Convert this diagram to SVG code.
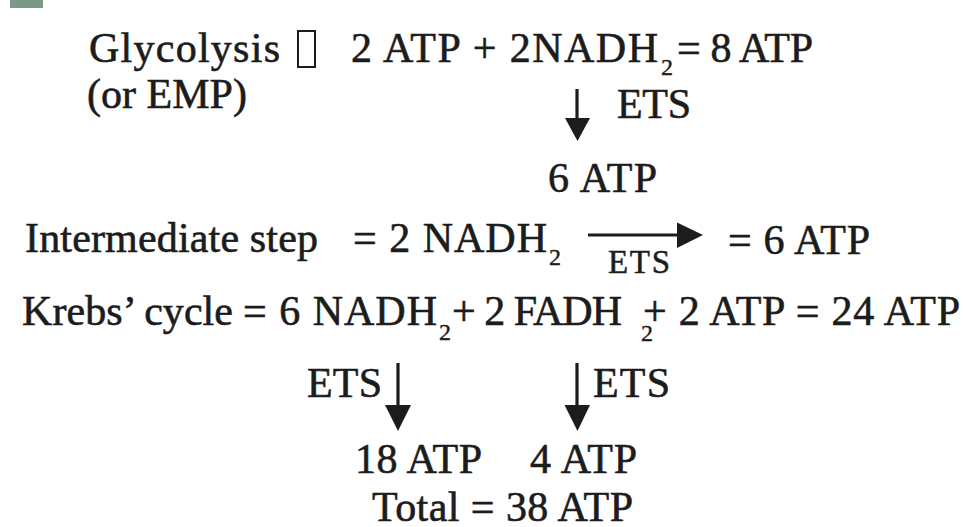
<svg xmlns="http://www.w3.org/2000/svg" width="963" height="527" viewBox="0 0 963 527">
  <style>
    .t, .sub, .lbl { font-family: "Liberation Serif", "Times New Roman", serif; fill: #1c1c1c; stroke: #1c1c1c; stroke-width: 0.6; }
    .t { font-size: 42px; }
    .sub { font-size: 24px; stroke-width: 0.4; }
    .lbl { font-size: 33px; stroke-width: 0.5; }
    .stem { stroke: #1c1c1c; stroke-width: 3.2; fill: none; }
    .head { fill: #1c1c1c; }
  </style>
  <rect width="963" height="527" fill="#ffffff"/>

  <!-- corner icon fragment -->
  <rect x="10" y="0" width="33" height="8" fill="#7a9a86"/>

  <!-- glycolysis -->
  <g id="glycolysis">
    <text class="t" x="89" y="62" textLength="191" lengthAdjust="spacing">Glycolysis</text>
    <rect x="298" y="31" width="17" height="36" fill="none" stroke="#1c1c1c" stroke-width="2"/>
    <text class="t" x="351" y="62" textLength="307" lengthAdjust="spacing">2 ATP + 2NADH</text>
    <text class="sub" x="661" y="75">2</text>
    <text class="t" x="677" y="62" textLength="136" lengthAdjust="spacing">= 8 ATP</text>
    <text class="t" x="87" y="108" textLength="160" lengthAdjust="spacing">(or EMP)</text>
  </g>

  <g id="glycolysis-ets-yield">
    <text class="t" x="548" y="192" textLength="109" lengthAdjust="spacing">6 ATP</text>
  </g>

  <!-- intermediate step -->
  <g id="intermediate">
    <text class="t" x="25" y="252" textLength="293" lengthAdjust="spacing">Intermediate step</text>
    <text class="t" x="353" y="252" textLength="194" lengthAdjust="spacing">= 2 NADH</text>
    <text class="sub" x="549" y="265">2</text>
    <text class="t" x="728" y="254" textLength="142" lengthAdjust="spacing">= 6 ATP</text>
  </g>

  <!-- Krebs' cycle -->
  <g id="krebs">
    <text class="t" x="22" y="325" textLength="211" lengthAdjust="spacing">Krebs’ cycle</text>
    <text class="t" x="243" y="325" textLength="194" lengthAdjust="spacing">= 6 NADH</text>
    <text class="sub" x="439" y="340">2</text>
    <text class="t" x="452" y="325" textLength="170" lengthAdjust="spacing">+ 2 FADH</text>
    <text class="sub" x="641" y="341">2</text>
    <text class="t" x="643" y="325" textLength="317" lengthAdjust="spacing">+ 2 ATP = 24 ATP</text>
  </g>

  <!-- ETS yields -->
  <g id="nadh-yield">
    <text class="t" x="355" y="473" textLength="127" lengthAdjust="spacing">18 ATP</text>
  </g>
  <g id="fadh-yield">
    <text class="t" x="530" y="473" textLength="107" lengthAdjust="spacing">4 ATP</text>
  </g>
  <g id="total">
    <text class="t" x="372" y="521" textLength="261" lengthAdjust="spacing">Total = 38 ATP</text>
  </g>

  <!-- connectors -->
  <g id="connectors">
    <!-- glycolysis NADH2 to ETS -->
    <line class="stem" x1="577" y1="89" x2="577" y2="122"/>
    <polygon class="head" points="565,118 590,118 577.5,141"/>
    <text class="t" x="617" y="118" textLength="74" lengthAdjust="spacing">ETS</text>

    <!-- intermediate step ETS -->
    <line class="stem" x1="588" y1="235" x2="682" y2="235"/>
    <polygon class="head" points="677,222.5 703,235 677,248"/>
    <text class="lbl" x="608" y="273" textLength="62" lengthAdjust="spacing">ETS</text>

    <!-- Krebs' cycle NADH2 -->
    <text class="t" x="307" y="397" textLength="75" lengthAdjust="spacing">ETS</text>
    <line class="stem" x1="398" y1="363" x2="398" y2="408"/>
    <polygon class="head" points="385,405 411,405 398,431"/>

    <!-- Krebs' cycle FADH2 -->
    <line class="stem" x1="577" y1="363" x2="577" y2="408"/>
    <polygon class="head" points="564.5,405 590,405 577.5,431"/>
    <text class="t" x="593" y="397" textLength="77" lengthAdjust="spacing">ETS</text>
  </g>
</svg>
